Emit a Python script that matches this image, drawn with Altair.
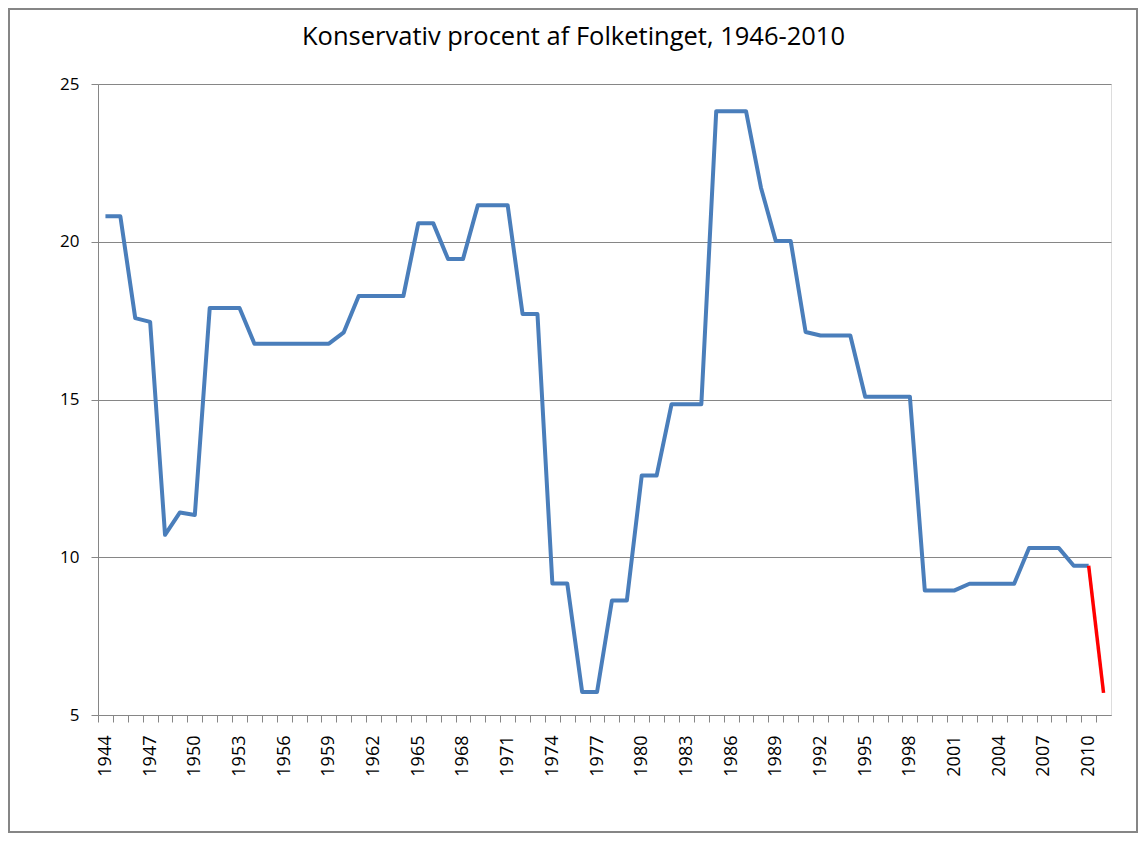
import altair as alt
import pandas as pd

years = list(range(1944, 2011))
values = [
    20.81, 20.81, 17.58, 17.46, 10.71, 11.42, 11.34, 17.90, 17.90, 17.90,
    16.77, 16.77, 16.77, 16.77, 16.77, 16.77, 17.13, 18.28, 18.28, 18.28,
    18.28, 20.59, 20.59, 19.45, 19.45, 21.16, 21.16, 21.16, 17.71, 17.71,
    9.17, 9.17, 5.73, 5.73, 8.63, 8.63, 12.59, 12.59, 14.85, 14.85,
    14.85, 24.14, 24.14, 24.14, 21.72, 20.02, 20.02, 17.14, 17.03, 17.03,
    17.03, 15.09, 15.09, 15.09, 15.09, 8.95, 8.95, 8.95, 9.16, 9.16,
    9.16, 9.16, 10.29, 10.29, 10.29, 9.73, 9.73,
]
red_years = [2010, 2011]
red_values = [9.73, 5.70]
all_years = [str(y) for y in range(1944, 2012)]
y_ticks = [5, 10, 15, 20, 25]
title_text = "Konservativ procent af Folketinget, 1946-2010"

blue_df = pd.DataFrame({"year": [str(y) for y in years], "value": values})
red_df = pd.DataFrame({"year": [str(y) for y in red_years], "value": red_values})

W, H = 1013, 631
PAD = {"left": 90, "top": 76, "right": 27, "bottom": 118}
step = W / len(all_years)
FONT = "Open Sans"
GREY = "#868686"

x_enc = alt.X(
    "year:O",
    scale=alt.Scale(type="point", padding=0.5, domain=all_years),
    axis=alt.Axis(
        title=None,
        labelAngle=270,
        labelExpr="(toNumber(datum.value) - 1944) % 3 == 0 ? datum.value : ''",
        labelOverlap=False,
        labelFont=FONT,
        labelFontSize=18,
        labelColor="black",
        labelPadding=13,
        tickOffset=-step / 2,
        labelOffset=step / 2,
        tickSize=7,
        tickColor=GREY,
        domainColor=GREY,
        grid=False,
    ),
)
y_enc = alt.Y(
    "value:Q",
    scale=alt.Scale(domain=[5, 25], nice=False, zero=False),
    axis=alt.Axis(
        title=None,
        values=y_ticks,
        grid=True,
        gridColor=GREY,
        gridWidth=1,
        tickSize=7,
        tickColor=GREY,
        domainColor=GREY,
        labelFont=FONT,
        labelFontSize=17,
        labelColor="black",
        labelPadding=12,
    ),
)

blue = alt.Chart(blue_df).mark_line(
    color="#4A7EBB", strokeWidth=4, strokeJoin="round"
).encode(x=x_enc, y=y_enc)

red = alt.Chart(red_df).mark_line(
    color="#FF0000", strokeWidth=3.5, strokeJoin="round"
).encode(x=x_enc, y=y_enc)

border = alt.Chart(alt.Data(values=[{"a": 1}])).mark_rect(
    fillOpacity=0, stroke=GREY, strokeWidth=2
).encode(
    x=alt.value(-PAD["left"] + 1),
    x2=alt.value(W + PAD["right"] - 1),
    y=alt.value(-PAD["top"] + 1),
    y2=alt.value(H + PAD["bottom"] - 1),
)

chart = (
    alt.layer(border, blue, red)
    .properties(
        width=W,
        height=H,
        autosize=alt.AutoSizeParams(type="none"),
        padding=PAD,
        title=alt.TitleParams(
            title_text,
            font=FONT,
            fontSize=25.5,
            fontWeight="normal",
            color="black",
            anchor="middle",
            baseline="alphabetic",
            offset=0,
            dx=-31,
            dy=62,
        ),
    )
    .configure_view(strokeWidth=0)
    .configure(background="white")
)

chart.save("out.html", embed_options={"renderer": "svg", "actions": False})
